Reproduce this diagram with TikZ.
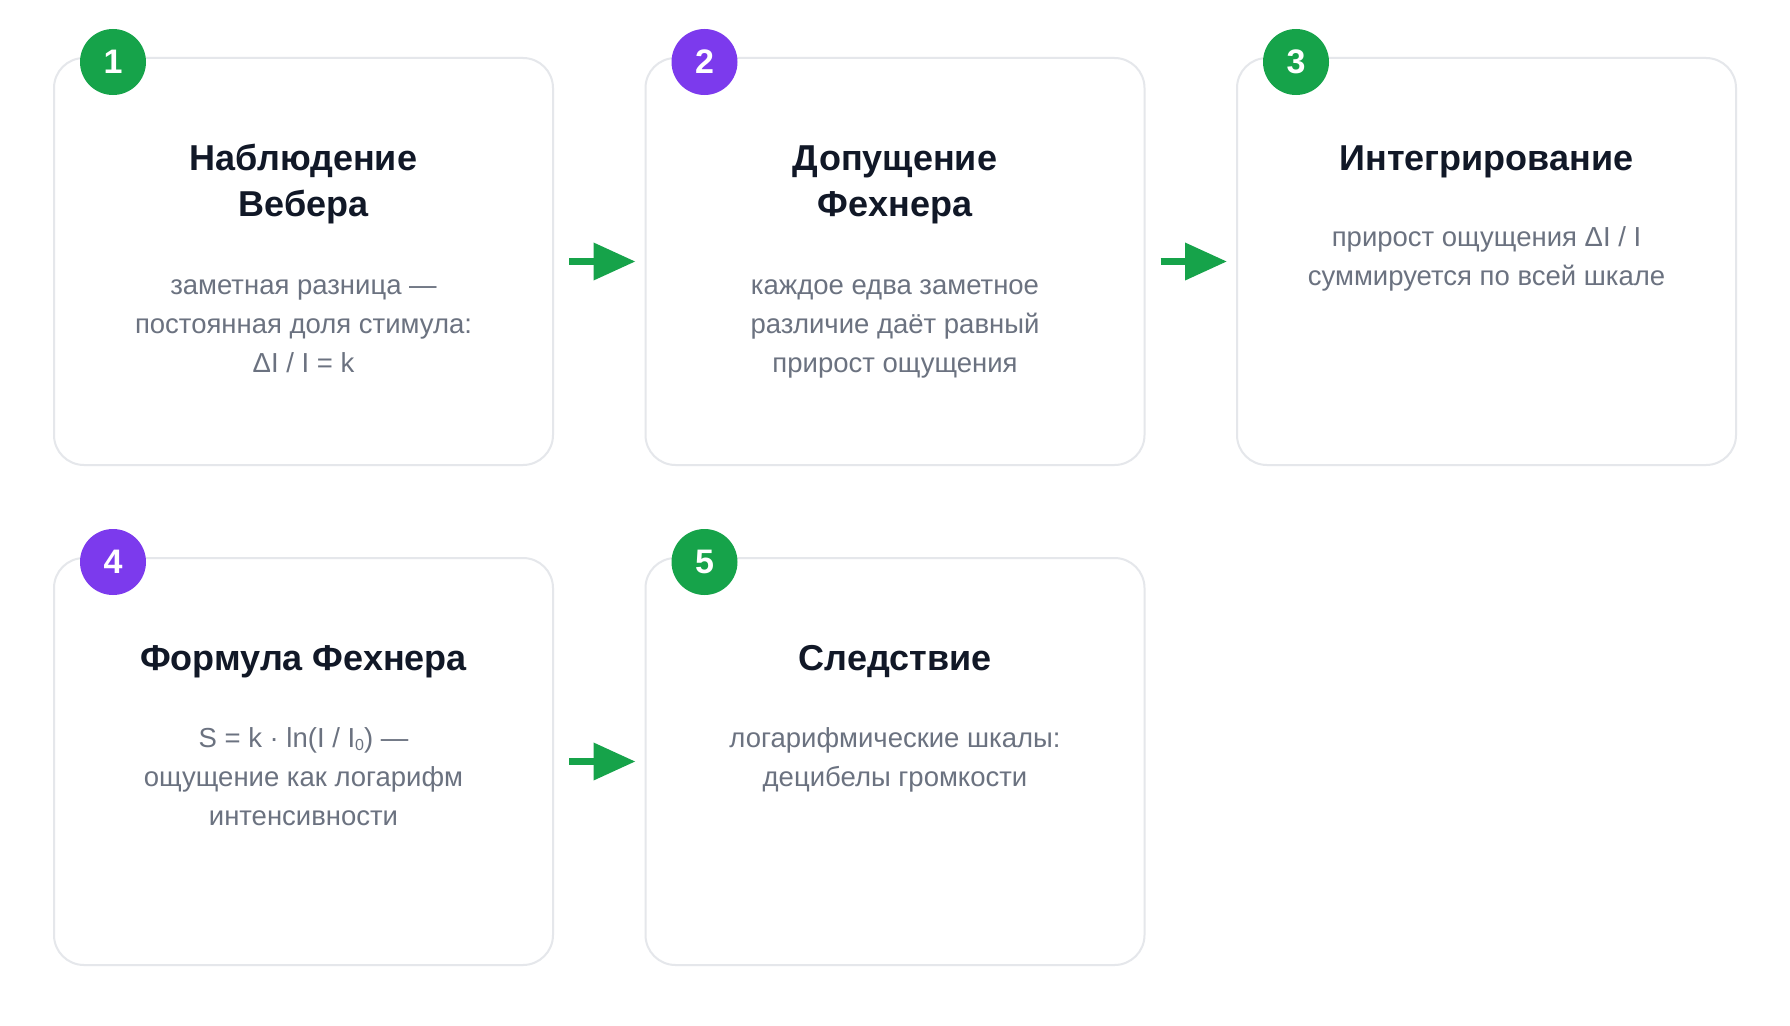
\documentclass[tikz,border=0pt]{standalone}
\usepackage{fontspec}
\setmainfont{Liberation Sans}
\usetikzlibrary{arrows.meta,calc}
\definecolor{cardborder}{HTML}{E5E7EB}
\definecolor{stepgreen}{HTML}{16A34A}
\definecolor{steppurple}{HTML}{7C3AED}
\definecolor{titlecol}{HTML}{111827}
\definecolor{bodycol}{HTML}{6B7280}
\pgfdeclarelayer{bg}
\pgfsetlayers{bg,main}
\newcommand\subzero{\raisebox{-0.12em}{\fontsize{16}{16}\selectfont 0}}
\tikzset{
  card/.style={draw=cardborder, line width=2pt, fill=white, rounded corners=30pt,
    minimum width=499pt, minimum height=407pt, inner sep=0pt},
  badge/.style={circle, minimum size=66pt, inner sep=0pt, text=white,
    font=\fontsize{34}{34}\selectfont\bfseries},
  greenbadge/.style={badge, fill=stepgreen},
  purplebadge/.style={badge, fill=steppurple},
  cardtitle/.style={anchor=base, align=center, inner sep=0pt, text=titlecol,
    font=\fontsize{36}{46}\selectfont\bfseries},
  cardbody/.style={anchor=base, align=center, inner sep=0pt, text=bodycol,
    font=\fontsize{27.5}{39}\selectfont},
  flow/.style={draw=stepgreen, line width=7pt, shorten <=15pt, shorten >=9pt,
    -{Triangle[length=42pt,width=36pt]}},
}
\newcommand\cardshadow[1]{%
  \foreach \i [evaluate=\i as \d using 1.7*\i, evaluate=\i as \r using 30+1.7*\i] in {1,...,14}{%
    \fill[black, opacity=0.0055, rounded corners=\r pt]
      ($(#1.north west)+(-\d,-\d+10)$) rectangle ($(#1.south east)+(\d,\d+10)$);
  }%
}
\begin{document}
\begin{tikzpicture}[x=1pt,y=-1pt]
\useasboundingbox[fill=white] (0,0) rectangle (1790,1025);

\node[card] (c1) at (303.5,261.5) {};
\node[card] (c2) at (895,261.5) {};
\node[card] (c3) at (1486.5,261.5) {};
\node[card] (c4) at (303.5,761.5) {};
\node[card] (c5) at (895,761.5) {};

\begin{pgfonlayer}{bg}
\cardshadow{c1}\cardshadow{c2}\cardshadow{c3}\cardshadow{c4}\cardshadow{c5}
\end{pgfonlayer}

\node[greenbadge] (b1) at (113,62) {1};
\node[purplebadge] (b2) at (704.5,62) {2};
\node[greenbadge] (b3) at (1296,62) {3};
\node[purplebadge] (b4) at (113,562) {4};
\node[greenbadge] (b5) at (704.5,562) {5};

% base anchor = baseline of the last line
\node[cardtitle] (t1) at (303.5,216) {Наблюдение\\Вебера};
\node[cardbody] (d1) at (303.5,372) {заметная разница —\\постоянная доля стимула:\\ΔI / I = k};

\node[cardtitle] (t2) at (895,216) {Допущение\\Фехнера};
\node[cardbody] (d2) at (895,372) {каждое едва заметное\\различие даёт равный\\прирост ощущения};

\node[cardtitle] (t3) at (1486.5,170) {Интегрирование};
\node[cardbody] (d3) at (1486.5,285) {прирост ощущения ΔI / I\\суммируется по всей шкале};

\node[cardtitle] (t4) at (303.5,670) {Формула Фехнера};
\node[cardbody] (d4) at (303.5,825) {S = k · ln(I / I\subzero) —\\ощущение как логарифм\\интенсивности};

\node[cardtitle] (t5) at (895,670) {Следствие};
\node[cardbody] (d5) at (895,786) {логарифмические шкалы:\\децибелы громкости};

\draw[flow] (c1.east) -- (c2.west);
\draw[flow] (c2.east) -- (c3.west);
\draw[flow] (c4.east) -- (c5.west);
\end{tikzpicture}
\end{document}
